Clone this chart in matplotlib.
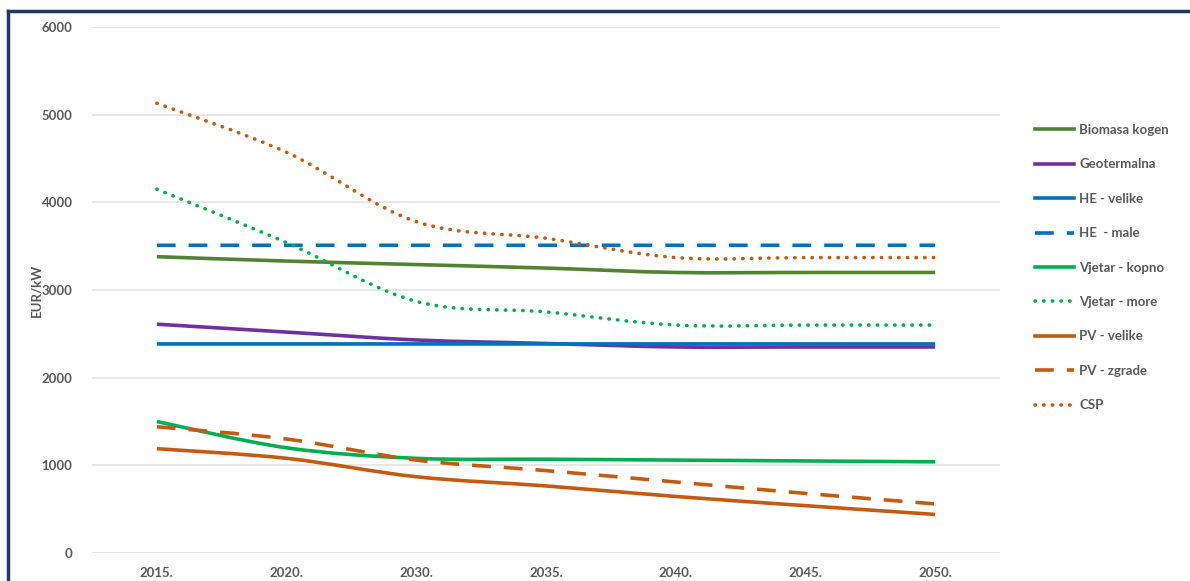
import numpy as np
import matplotlib.pyplot as plt
from matplotlib.lines import Line2D
from matplotlib.path import Path
from matplotlib.patches import PathPatch

plt.rcParams['font.family'] = ['Lato', 'DejaVu Sans']

# Data
years = ['2015.', '2020.', '2030.', '2035.', '2040.', '2045.', '2050.']
biomasa = [3380, 3330, 3290, 3250, 3200, 3200, 3200]
geoterm = [2610, 2520, 2430, 2390, 2350, 2350, 2350]
he_velike = [2385, 2385, 2385, 2385, 2385, 2385, 2385]
he_male = [3510, 3510, 3510, 3510, 3510, 3510, 3510]
vjetar_kopno = [1500, 1200, 1080, 1070, 1060, 1050, 1040]
vjetar_more = [4150, 3540, 2870, 2750, 2600, 2600, 2600]
pv_velike = [1190, 1080, 870, 765, 645, 540, 440]
pv_zgrade = [1440, 1300, 1060, 940, 810, 680, 560]
csp = [5130, 4570, 3780, 3590, 3370, 3370, 3370]

DASH = (0, (5.2, 3.6))
DOT = (0, (0.1, 2.3))

series = [
    ('Biomasa kogen', biomasa, '#548235', '-'),
    ('Geotermalna', geoterm, '#7030A0', '-'),
    ('HE - velike', he_velike, '#0070C0', '-'),
    ('HE  - male', he_male, '#0070C0', DASH),
    ('Vjetar - kopno', vjetar_kopno, '#00B050', '-'),
    ('Vjetar - more', vjetar_more, '#00B050', DOT),
    ('PV - velike', pv_velike, '#C55A11', '-'),
    ('PV - zgrade', pv_zgrade, '#C55A11', DASH),
    ('CSP', csp, '#C55A11', DOT),
]


def smooth_path(xs, ys):
    # Excel-like smoothed line: cubic Bezier with Catmull-Rom control points
    pts = np.column_stack([xs, ys]).astype(float)
    n = len(pts)
    verts = [pts[0]]
    codes = [Path.MOVETO]
    for i in range(n - 1):
        p0 = pts[i - 1] if i > 0 else pts[i]
        p1 = pts[i]
        p2 = pts[i + 1]
        p3 = pts[i + 2] if i + 2 < n else pts[i + 1]
        c1 = p1 + (p2 - p0) / 6
        c2 = p2 - (p3 - p1) / 6
        verts += [c1, c2, p2]
        codes += [Path.CURVE4] * 3
    return Path(verts, codes)


fig = plt.figure(figsize=(11.9, 5.81), dpi=100)
ax = fig.add_axes([92 / 1190, (581 - 553) / 581, 908 / 1190, (553 - 27) / 581])

x = np.arange(len(years))
handles = []
for label, vals, color, ls in series:
    cap = 'round' if ls == DOT else 'butt'
    patch = PathPatch(smooth_path(x, vals), fill=False, edgecolor=color,
                      linewidth=2.6, linestyle=ls, capstyle=cap)
    ax.add_patch(patch)
    handles.append(Line2D([], [], color=color, lw=2.6, linestyle=ls,
                          dash_capstyle=cap, label=label))

ax.set_xlim(-0.5, len(years) - 0.5)
ax.set_ylim(0, 6000)
ax.set_yticks(range(0, 6001, 1000))
ax.set_xticks(x)
ax.set_xticklabels(years)
ax.grid(axis='y', color='#e3e3e3', lw=1.2)
ax.set_axisbelow(True)
for s in ax.spines.values():
    s.set_visible(False)
ax.tick_params(length=0, colors='#595959', labelsize=9.5)
ax.tick_params(axis='y', pad=14)
ax.tick_params(axis='x', pad=10)
for t in ax.get_xticklabels() + ax.get_yticklabels():
    t.set_fontweight('bold')
ax.set_ylabel('EUR/kW', color='#595959', fontsize=9.5, fontweight='bold')
ax.yaxis.set_label_coords(-50 / 908, 0.5)

leg = fig.legend(handles=handles, loc='upper left', bbox_to_anchor=(1023 / 1190, 1 - 112 / 581),
                 frameon=False, handlelength=3.0, labelspacing=1.7, handletextpad=0.35,
                 prop={'size': 9.5, 'weight': 'bold'})
for t in leg.get_texts():
    t.set_color('#595959')

# dark frame (top and left)
fig.add_artist(Line2D([8 / 1190, 1], [1 - 11 / 581, 1 - 11 / 581], color='#203864', lw=2.5))
fig.add_artist(Line2D([8 / 1190, 8 / 1190], [0, 1 - 11 / 581], color='#203864', lw=2.5))

fig.savefig('out.png', dpi=100)
